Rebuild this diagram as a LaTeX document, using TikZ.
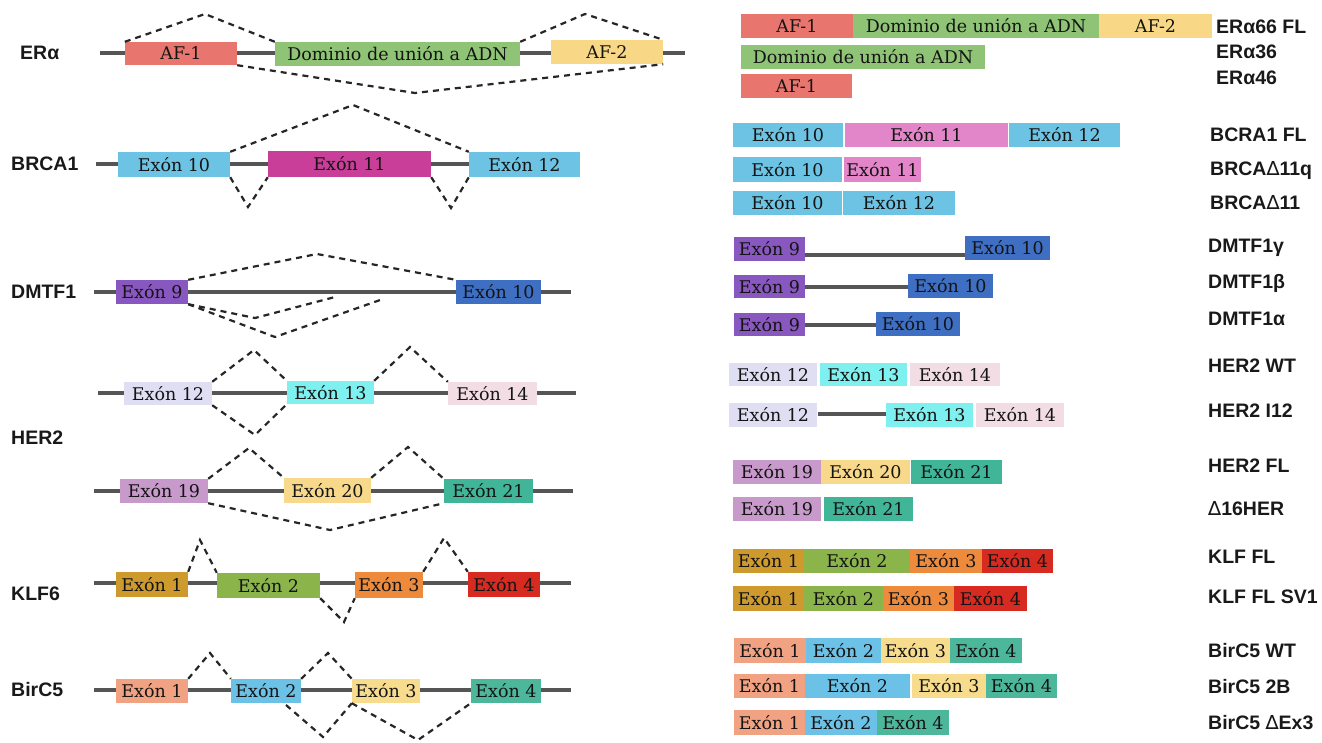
\documentclass[tikz,border=0pt]{standalone}
\usepackage{fontspec}
\setmainfont{DejaVu Serif}
\setsansfont{Liberation Sans}
\newfontfamily\djv{DejaVu Sans}
\usetikzlibrary{calc}
\definecolor{geneline}{HTML}{555555}
\definecolor{af1}{HTML}{E8766F}
\definecolor{dom}{HTML}{8FC476}
\definecolor{af2}{HTML}{F8D887}
\definecolor{bblue}{HTML}{6CC3E3}
\definecolor{ex11d}{HTML}{C83E98}
\definecolor{ex11l}{HTML}{E286C9}
\definecolor{dpur}{HTML}{8957C0}
\definecolor{dblu}{HTML}{3F6FC2}
\definecolor{hlav}{HTML}{E0DEF2}
\definecolor{hcya}{HTML}{7EF0F0}
\definecolor{hpnk}{HTML}{F3DDE4}
\definecolor{hpur}{HTML}{C79ACB}
\definecolor{hyel}{HTML}{F8D98C}
\definecolor{htea}{HTML}{41B598}
\definecolor{kmus}{HTML}{CE9A2E}
\definecolor{kgrn}{HTML}{8BB44B}
\definecolor{kora}{HTML}{EE8A3B}
\definecolor{kred}{HTML}{D72A20}
\definecolor{bsal}{HTML}{F0A283}
\definecolor{bblu}{HTML}{6CC1E6}
\definecolor{byel}{HTML}{F6DC8C}
\definecolor{btea}{HTML}{4DB79B}
\tikzset{
  gb/.style={draw=none, inner sep=0pt, font=\fontsize{17.5}{18}\selectfont, text=black!92},
  lab/.style={font=\sffamily\bfseries\fontsize{19.5}{22}\selectfont, anchor=west, inner sep=0pt, text=black!90},
  gene/.style={line width=4pt, draw=geneline},
  splice/.style={dash pattern=on 6pt off 5pt, line width=2.2pt, draw=black!85}
}
\newcommand\gbox[7]{\node[gb,fill=#2,minimum width={(#5-#3)*1pt},minimum height={(#6-#4)*1pt}] (#1) at ({(#3+#5)/2},{(#4+#6)/2}) {#7};}
\begin{document}
\begin{tikzpicture}[x=1pt,y=-1pt]
\useasboundingbox (0,0) rectangle (1322,742);
% ===================== LEFT =====================
% ER alpha
\coordinate (erL) at (100,53); \coordinate (erR) at (685,53);
\draw[gene] (erL) -- (erR);
\gbox{eaf1}{af1}{125}{42}{237}{65}{AF-1}
\gbox{edom}{dom}{275}{42}{520}{66}{Dominio de unión a ADN}
\gbox{eaf2}{af2}{551}{40}{663}{64}{AF-2}
\coordinate (ep1) at (205,14); \coordinate (ep2) at (585,14); \coordinate (ev1) at (415,93);
\draw[splice] (eaf1.north west) -- (ep1) -- (edom.north west);
\draw[splice] (edom.north east) -- (ep2) -- (eaf2.north east);
\draw[splice] (eaf1.south east) -- (ev1) -- (eaf2.south east);
\node[lab] (lera) at (20,53) {ERα};
% BRCA1
\coordinate (brL) at (96,164); \coordinate (brR) at (575,164);
\draw[gene] (brL) -- (brR);
\gbox{b10}{bblue}{118}{152}{230}{177}{Exón 10}
\gbox{b11}{ex11d}{268}{151}{431}{177}{Exón 11}
\gbox{b12}{bblue}{469}{152}{580}{177}{Exón 12}
\coordinate (bp1) at (353,105); \coordinate (bv1) at (248,207); \coordinate (bv2) at (451,208);
\draw[splice] (b10.north east) -- (bp1) -- (b12.north west);
\draw[splice] (b10.south east) -- (bv1) -- (b11.south west);
\draw[splice] (b11.south east) -- (bv2) -- (b12.south west);
\node[lab] (lbr) at (11,164) {BRCA1};
% DMTF1
\coordinate (dmL) at (94,292); \coordinate (dmR) at (571,292);
\draw[gene] (dmL) -- (dmR);
\gbox{d9}{dpur}{116}{280}{188}{304}{Exón 9}
\gbox{d10}{dblu}{456}{280}{541}{304}{Exón 10}
\coordinate (dp1) at (317,254);
\coordinate (dv1) at (255,318); \coordinate (de1) at (335,297);
\coordinate (dv2) at (275,337); \coordinate (de2) at (383,299);
\draw[splice] (d9.north east) -- (dp1) -- (d10.north west);
\draw[splice] (d9.south east) -- (dv1) -- (de1);
\draw[splice] (d9.south east) -- (dv2) -- (de2);
\node[lab] (ldm) at (11,292) {DMTF1};
% HER2 row 1
\coordinate (h1L) at (98,393); \coordinate (h1R) at (576,393);
\draw[gene] (h1L) -- (h1R);
\gbox{h12}{hlav}{124}{382}{212}{405}{Exón 12}
\gbox{h13}{hcya}{287}{381}{374}{404}{Exón 13}
\gbox{h14}{hpnk}{448}{382}{537}{405}{Exón 14}
\coordinate (hp1) at (254,350); \coordinate (hp2) at (410,347); \coordinate (hv1) at (255,435);
\draw[splice] (h12.north east) -- (hp1) -- (h13.north west);
\draw[splice] (h13.north east) -- (hp2) -- (h14.north west);
\draw[splice] (h12.south east) -- (hv1) -- (h13.south west);
\node[lab] (lher) at (11,438) {HER2};
% HER2 row 2
\coordinate (h2L) at (94,491); \coordinate (h2R) at (573,491);
\draw[gene] (h2L) -- (h2R);
\gbox{h19}{hpur}{120}{479}{208}{503}{Exón 19}
\gbox{h20}{hyel}{284}{478}{371}{503}{Exón 20}
\gbox{h21}{htea}{444}{479}{533}{503}{Exón 21}
\coordinate (hp3) at (249,448); \coordinate (hp4) at (408,447); \coordinate (hv2) at (330,530);
\draw[splice] (h19.north east) -- (hp3) -- (h20.north west);
\draw[splice] (h20.north east) -- (hp4) -- (h21.north west);
\draw[splice] (h19.south east) -- (hv2) -- (h21.south west);
% KLF6
\coordinate (kL) at (94,583); \coordinate (kR) at (571,583);
\draw[gene] (kL) -- (kR);
\gbox{k1}{kmus}{116}{572}{188}{597}{Exón 1}
\gbox{k2}{kgrn}{217}{573}{320}{598}{Exón 2}
\gbox{k3}{kora}{355}{572}{423}{598}{Exón 3}
\gbox{k4}{kred}{468}{572}{540}{597}{Exón 4}
\coordinate (kp1) at (200,540); \coordinate (kp2) at (444,538); \coordinate (kv1) at (344,622);
\draw[splice] (k1.north east) -- (kp1) -- (k2.north west);
\draw[splice] (k3.north east) -- (kp2) -- (k4.north west);
\draw[splice] (k2.south east) -- (kv1) -- (k3.south west);
\node[lab] (lklf) at (11,594) {KLF6};
% BirC5
\coordinate (cL) at (94,690); \coordinate (cR) at (571,690);
\draw[gene] (cL) -- (cR);
\gbox{c1}{bsal}{116}{679}{188}{703}{Exón 1}
\gbox{c2}{bblu}{231}{679}{301}{703}{Exón 2}
\gbox{c3}{byel}{352}{679}{420}{703}{Exón 3}
\gbox{c4}{btea}{471}{679}{541}{703}{Exón 4}
\coordinate (cp1) at (210,653); \coordinate (cp2) at (328,653);
\coordinate (cs1) at (286,705); \coordinate (cv1) at (323,737); \coordinate (cv2) at (418,740);
\draw[splice] (c1.north east) -- (cp1) -- (c2.north west);
\draw[splice] (c2.north east) -- (cp2) -- (c3.north west);
\draw[splice] (cs1) -- (cv1) -- (c3.south west);
\draw[splice] (c3.south west) -- (cv2) -- (c4.south west);
\node[lab] (lbir) at (11,690) {BirC5};
% ===================== RIGHT =====================
% ER alpha isoforms
\gbox{r1a}{af1}{741}{14}{853}{38}{AF-1}
\gbox{r1b}{dom}{853}{14}{1099}{38}{Dominio de unión a ADN}
\gbox{r1c}{af2}{1099}{14}{1212}{38}{AF-2}
\gbox{r2a}{dom}{741}{45}{985}{69}{Dominio de unión a ADN}
\gbox{r3a}{af1}{741}{74}{852}{98}{AF-1}
\node[lab] (l1) at (1216,27) {ERα66 FL};
\node[lab] (l2) at (1216,52) {ERα36};
\node[lab] (l3) at (1216,78) {ERα46};
% BRCA isoforms
\gbox{r4a}{bblue}{733}{123}{843}{147}{Exón 10}
\gbox{r4b}{ex11l}{845}{123}{1008}{147}{Exón 11}
\gbox{r4c}{bblue}{1009}{123}{1120}{147}{Exón 12}
\gbox{r5a}{bblue}{733}{157}{842}{182}{Exón 10}
\gbox{r5b}{ex11l}{844}{157}{921}{182}{Exón 11}
\gbox{r6a}{bblue}{733}{191}{842}{215}{Exón 10}
\gbox{r6b}{bblue}{843}{191}{955}{215}{Exón 12}
\node[lab] (l4) at (1210,135) {BCRA1 FL};
\node[lab] (l5) at (1210,171) {BRCA{\djv\mdseries ∆}11q};
\node[lab] (l6) at (1210,203) {BRCA{\djv\mdseries ∆}11};
% DMTF1 isoforms
\coordinate (g1) at (805,255); \coordinate (g2) at (805,287); \coordinate (g3) at (805,325);
\draw[gene] (g1) -- (g1 -| 965,0);
\draw[gene] (g2) -- (g2 -| 908,0);
\draw[gene] (g3) -- (g3 -| 876,0);
\gbox{r7a}{dpur}{734}{237}{805}{261}{Exón 9}
\gbox{r7b}{dblu}{965}{236}{1050}{260}{Exón 10}
\gbox{r8a}{dpur}{734}{275}{805}{298}{Exón 9}
\gbox{r8b}{dblu}{908}{274}{993}{298}{Exón 10}
\gbox{r9a}{dpur}{734}{313}{805}{336}{Exón 9}
\gbox{r9b}{dblu}{876}{312}{960}{336}{Exón 10}
\node[lab] (l7) at (1208,248) {DMTF1γ};
\node[lab] (l8) at (1208,283) {DMTF1β};
\node[lab] (l9) at (1208,319) {DMTF1α};
% HER2 isoforms
\gbox{r10a}{hlav}{729}{363}{817}{386}{Exón 12}
\gbox{r10b}{hcya}{820}{363}{907}{386}{Exón 13}
\gbox{r10c}{hpnk}{910}{363}{1000}{386}{Exón 14}
\coordinate (g4) at (818,414);
\draw[gene] (g4) -- (g4 -| 886,0);
\gbox{r11a}{hlav}{729}{403}{817}{427}{Exón 12}
\gbox{r11b}{hcya}{886}{403}{973}{427}{Exón 13}
\gbox{r11c}{hpnk}{976}{403}{1064}{427}{Exón 14}
\gbox{r12a}{hpur}{733}{460}{821}{484}{Exón 19}
\gbox{r12b}{hyel}{821}{460}{910}{484}{Exón 20}
\gbox{r12c}{htea}{911}{460}{1002}{484}{Exón 21}
\gbox{r13a}{hpur}{733}{497}{821}{521}{Exón 19}
\gbox{r13b}{htea}{824}{497}{913}{521}{Exón 21}
\node[lab] (l10) at (1208,366) {HER2 WT};
\node[lab] (l11) at (1208,411) {HER2 I12};
\node[lab] (l12) at (1208,466) {HER2 FL};
\node[lab] (l13) at (1208,509) {{\djv\mdseries ∆}16HER};
% KLF isoforms
\gbox{r14a}{kmus}{733}{549}{804}{573}{Exón 1}
\gbox{r14b}{kgrn}{804}{549}{910}{573}{Exón 2}
\gbox{r14c}{kora}{910}{549}{982}{573}{Exón 3}
\gbox{r14d}{kred}{982}{549}{1053}{573}{Exón 4}
\gbox{r15a}{kmus}{733}{586}{804}{611}{Exón 1}
\gbox{r15b}{kgrn}{804}{586}{883}{611}{Exón 2}
\gbox{r15c}{kora}{883}{586}{954}{611}{Exón 3}
\gbox{r15d}{kred}{954}{586}{1027}{611}{Exón 4}
\node[lab] (l14) at (1208,557) {KLF FL};
\node[lab] (l15) at (1208,597) {KLF FL SV1};
% BirC5 isoforms
\gbox{r16a}{bsal}{734}{638}{806}{663}{Exón 1}
\gbox{r16b}{bblu}{806}{638}{881}{663}{Exón 2}
\gbox{r16c}{byel}{881}{638}{950}{663}{Exón 3}
\gbox{r16d}{btea}{950}{638}{1022}{663}{Exón 4}
\gbox{r17a}{bsal}{734}{674}{805}{698}{Exón 1}
\gbox{r17b}{bblu}{805}{674}{910}{698}{Exón 2}
\gbox{r17c}{byel}{912}{674}{986}{698}{Exón 3}
\gbox{r17d}{btea}{986}{674}{1057}{698}{Exón 4}
\gbox{r18a}{bsal}{734}{710}{805}{735}{Exón 1}
\gbox{r18b}{bblu}{805}{710}{877}{735}{Exón 2}
\gbox{r18c}{btea}{877}{710}{949}{735}{Exón 4}
\node[lab] (l16) at (1208,651) {BirC5 WT};
\node[lab] (l17) at (1208,687) {BirC5 2B};
\node[lab] (l18) at (1208,723) {BirC5 {\djv\mdseries ∆}Ex3};
\end{tikzpicture}
\end{document}
